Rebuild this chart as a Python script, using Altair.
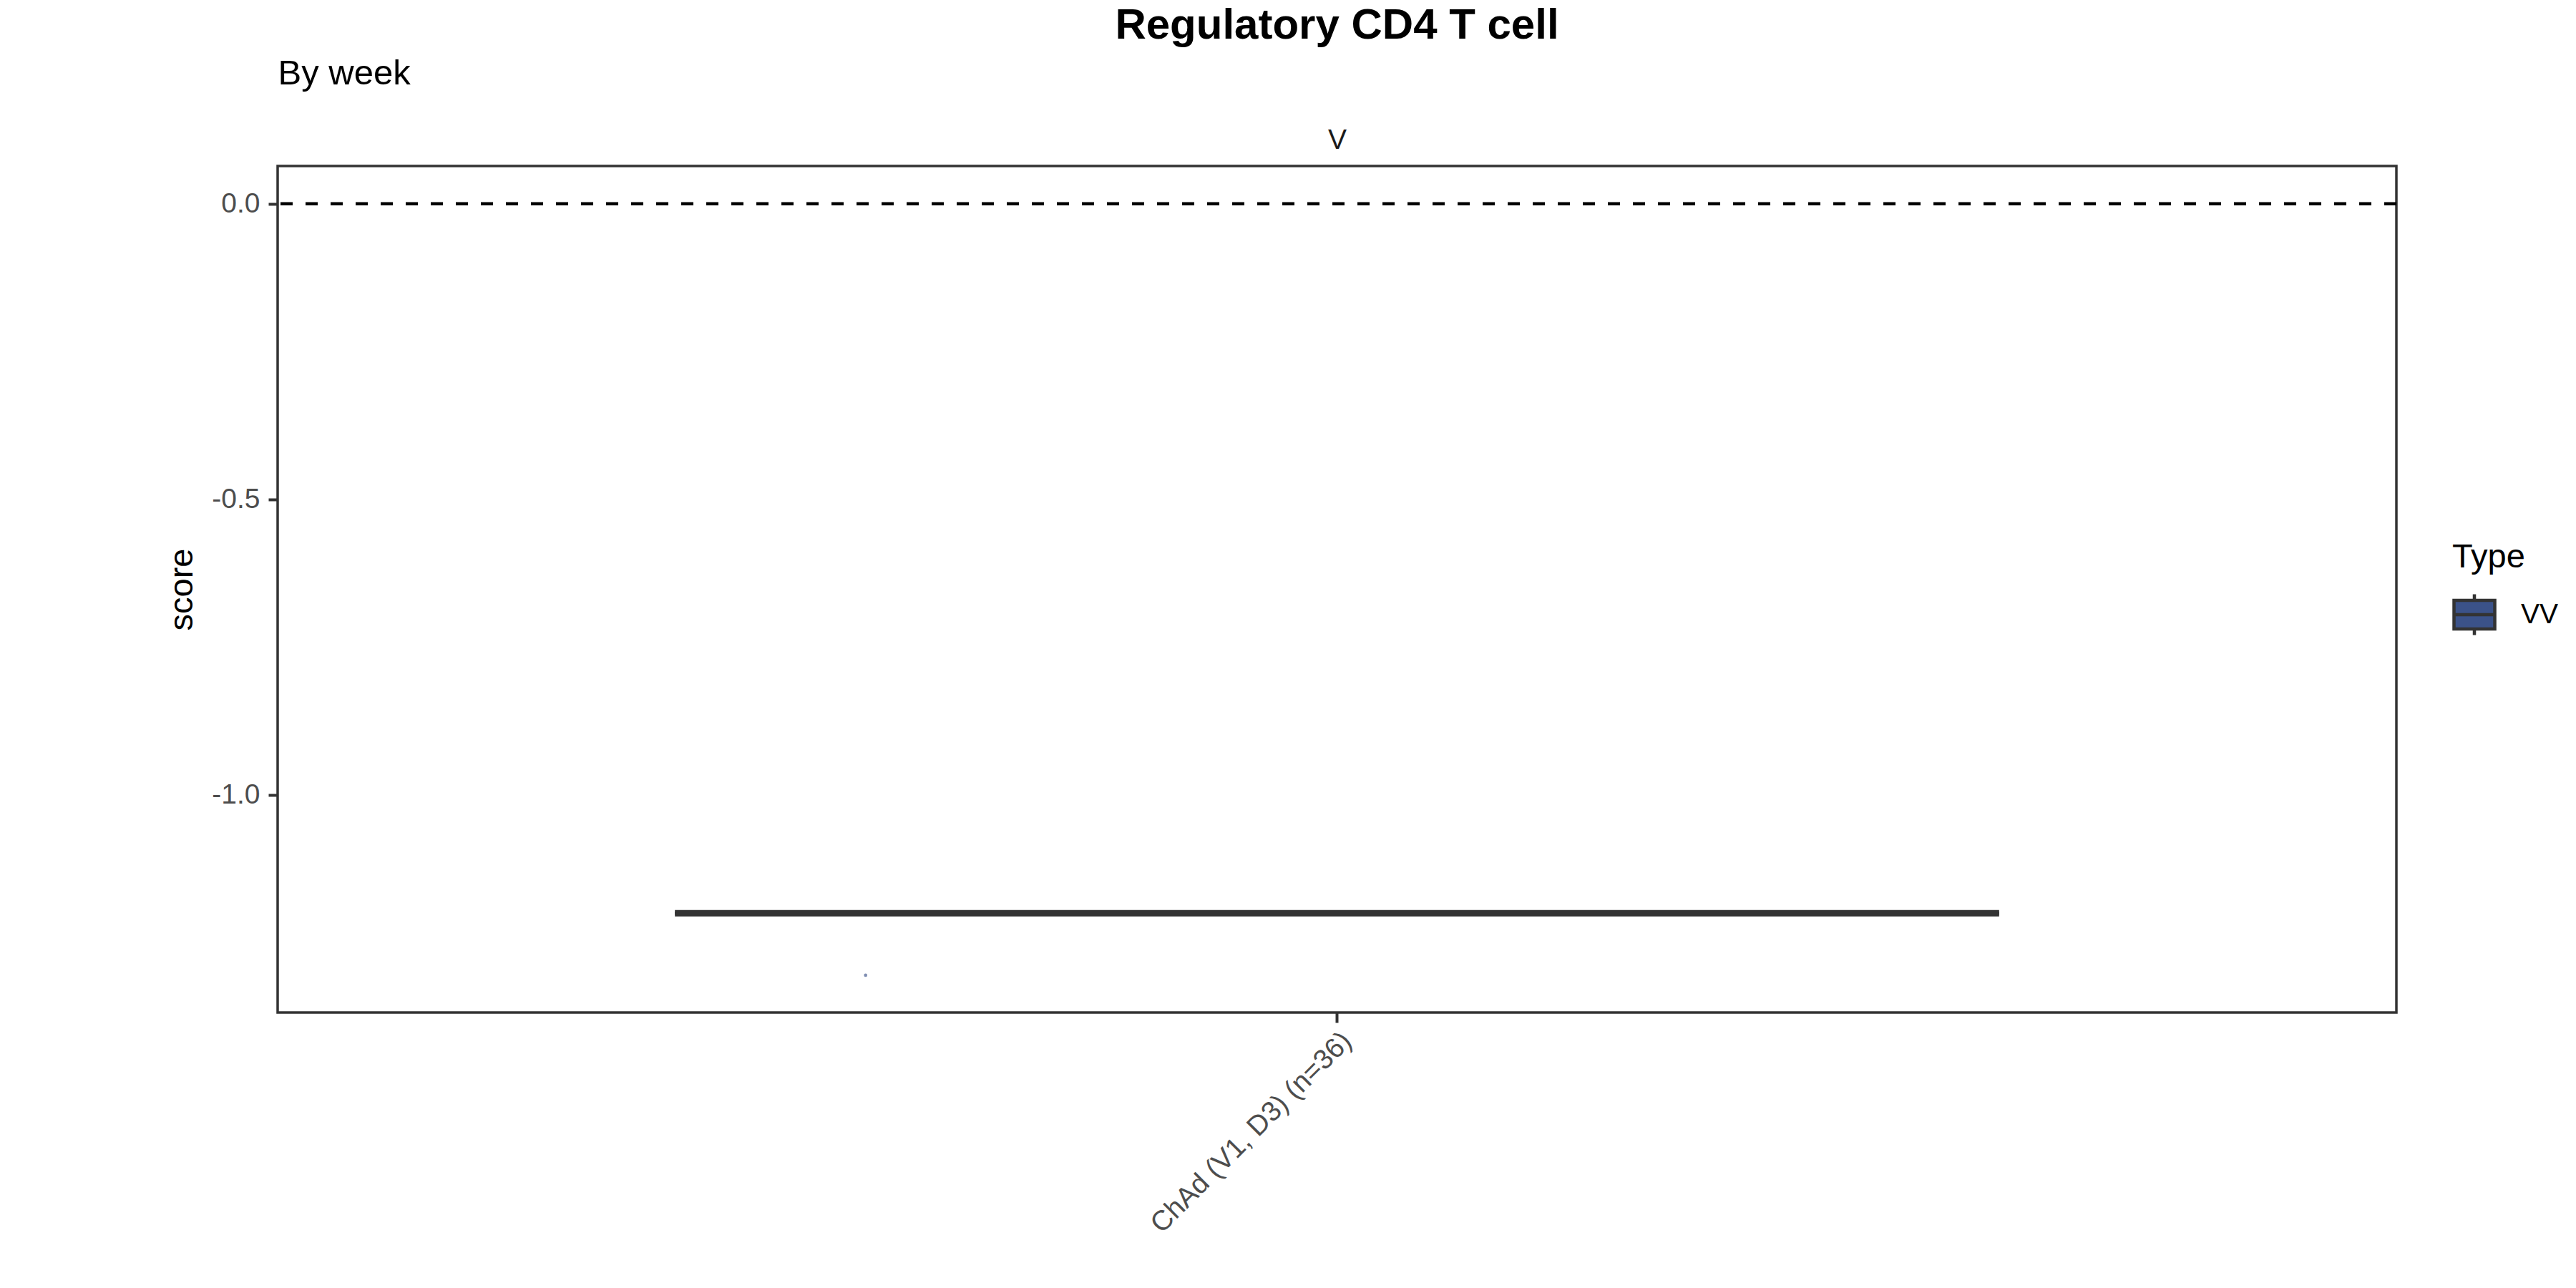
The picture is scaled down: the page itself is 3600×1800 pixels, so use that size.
import altair as alt
import pandas as pd

# ---------------- data ----------------
categories = ["ChAd (V1, D3) (n=36)"]
facet_labels = ["V"]
types = ["VV"]
box_q1 = [-1.2]
box_median = [-1.2]
box_q3 = [-1.2]
point_scores = [-1.305]
point_jitter = [-0.267]
reference_line = [0.0]
y_ticks = [-1.0, -0.5, 0.0]
y_domain = [-1.368, 0.064]

# ---------------- tables ----------------
positions = list(range(1, len(categories) + 1))
box_df = pd.DataFrame({
    "pos": positions,
    "category": categories,
    "Type": types,
    "q1": box_q1,
    "median": box_median,
    "q3": box_q3,
})
pt_df = pd.DataFrame({
    "pos": [positions[0] + j for j in point_jitter],
    "score": point_scores,
    "Type": types * len(point_scores),
})
hl_df = pd.DataFrame({"yint": reference_line})

FONT = "Liberation Sans"
BOX_COLOR = "#3B5289"
DARK = "#333333"


def label_expr(labels):
    expr = "''"
    for i, lab in reversed(list(enumerate(labels, start=1))):
        expr = f"datum.value == {i} ? '{lab}' : ({expr})"
    return expr


x_scale = alt.Scale(domain=[0.4, 1.6], nice=False, zero=False)
y_scale = alt.Scale(domain=y_domain, nice=False, zero=False)

y_axis = alt.Axis(
    values=y_ticks,
    labelExpr="(datum.value < 0 ? '-' : '') + format(abs(datum.value), '.1f')",
    title="score", titleX=-120, titleBaseline="alphabetic",
    titleFontSize=47, titleColor="black", titleFontWeight="normal",
    labelFontSize=39, labelColor="#4D4D4D", labelPadding=12,
    tickSize=13, tickWidth=4, tickColor=DARK, domain=False, grid=False,
)

x_axis_bottom = alt.Axis(
    orient="bottom", values=positions, labelExpr=label_expr(categories),
    title=None, labelAngle=-45, labelFontSize=39, labelColor="#4D4D4D",
    labelPadding=6, labelLimit=0, tickSize=14, tickWidth=4, tickColor=DARK,
    domain=False, grid=False,
)

x_axis_top = alt.Axis(
    orient="top", values=positions, labelExpr=label_expr(facet_labels),
    labelAngle=0, labelFontSize=39, labelColor="#1A1A1A", labelPadding=25,
    labelBaseline="alphabetic", ticks=False, tickSize=0, domain=False, grid=False,
    title="By week", titleAnchor="start", titleAlign="left", titleX=0, titleY=-115,
    titleBaseline="alphabetic", titleFontSize=49, titleFontWeight="normal",
    titleColor="black",
)

legend_symbol = "M-1,-0.7H1V0.7H-1Z M-1,0H1 M0,-0.7V-1 M0,0.7V1"

box_base = alt.Chart(box_df).transform_calculate(
    xmin="datum.pos - 0.375", xmax="datum.pos + 0.375"
)

rect = box_base.mark_rect(stroke=DARK, strokeWidth=4.5).encode(
    x=alt.X("xmin:Q", scale=x_scale, axis=x_axis_bottom),
    x2="xmax:Q",
    y=alt.Y("q1:Q", scale=y_scale, axis=y_axis),
    y2="q3:Q",
    color=alt.Color(
        "Type:N",
        scale=alt.Scale(domain=types, range=[BOX_COLOR]),
        legend=alt.Legend(
            title="Type", orient="none", legendX=3039, legendY=524,
            titleFontSize=47, titleColor="black", titleFontWeight="normal",
            titlePadding=25, labelFontSize=39, labelColor="black",
            symbolType=legend_symbol, symbolSize=3249, symbolStrokeWidth=4.5,
            symbolStrokeColor=DARK, symbolOpacity=1, labelOffset=34,
        ),
    ),
)

median = box_base.mark_rule(color=DARK, strokeWidth=9, strokeCap="butt").encode(
    x=alt.X("xmin:Q", scale=x_scale, axis=None),
    x2="xmax:Q",
    y=alt.Y("median:Q", scale=y_scale, axis=y_axis),
)

points = alt.Chart(pt_df).mark_circle(size=22, opacity=0.65, color=BOX_COLOR).encode(
    x=alt.X("pos:Q", scale=x_scale, axis=x_axis_top),
    y=alt.Y("score:Q", scale=y_scale, axis=y_axis),
)

hline = alt.Chart(hl_df).mark_rule(color="black", strokeWidth=4.5, strokeDash=[17, 18]).encode(
    y=alt.Y("yint:Q", scale=y_scale, axis=y_axis),
)

chart = alt.layer(points, rect, median, hline).resolve_axis(
    x="independent"
).properties(
    width=2961,
    height=1183,
    padding={"left": 388, "top": 232, "right": 251, "bottom": 385},
    autosize=alt.AutoSizeParams(type="none"),
    title=alt.Title(
        "Regulatory CD4 T cell", anchor="middle", frame="group",
        fontSize=60, fontWeight="bold", color="black", offset=11,
    ),
).configure(
    font=FONT, background="white"
).configure_view(
    stroke=DARK, strokeWidth=3.5
)

chart.save("out.html", embed_options={"renderer": "svg", "actions": False})
